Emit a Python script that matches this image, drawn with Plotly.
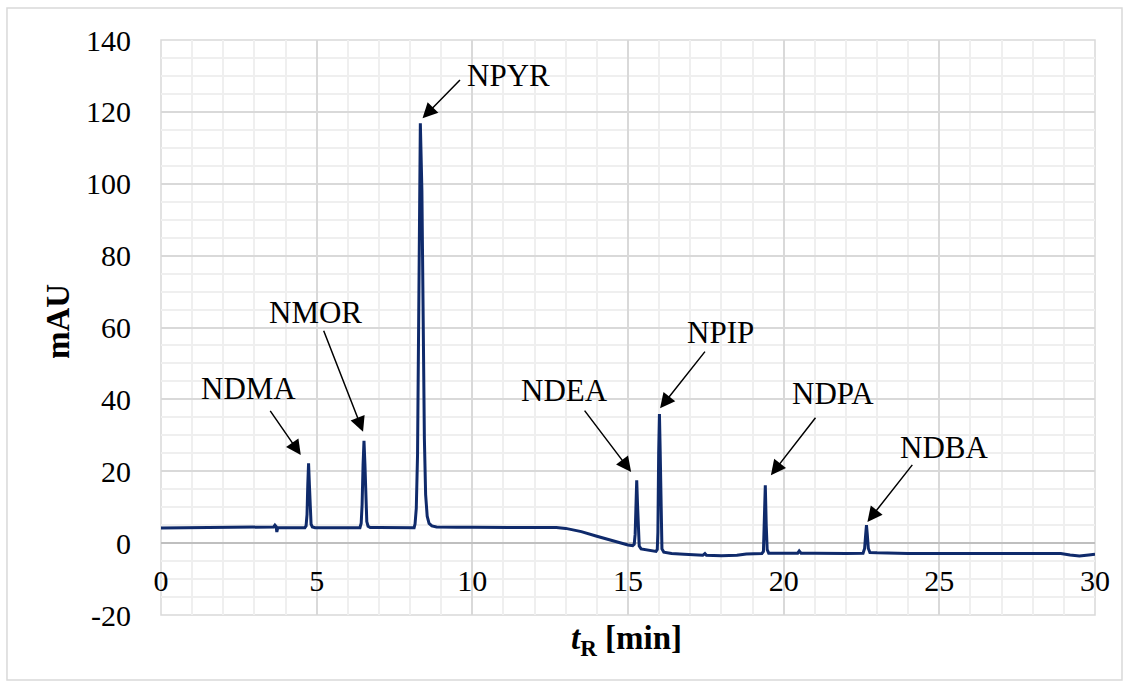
import plotly.graph_objects as go

# ---- data ----
base1_t = [0.0, 0.5, 1.0, 1.5, 2.0, 2.5, 3.0, 3.5, 3.62, 3.66, 3.70, 3.72, 3.75, 4.0, 4.3, 4.62]
base1_y = [4.2, 4.25, 4.3, 4.3, 4.35, 4.35, 4.35, 4.4, 4.5, 5.0, 4.6, 3.1, 4.3, 4.3, 4.3, 4.3]

ndma_t = [4.66, 4.69, 4.715, 4.74, 4.765, 4.79, 4.82, 4.86, 4.95]
ndma_y = [4.8, 7.9, 16.3, 22.2, 16.6, 8.4, 5.3, 4.5, 4.3]

mid1_t = [5.3, 5.8, 6.2, 6.39]
mid1_y = [4.3, 4.35, 4.35, 4.3]

nmor_t = [6.43, 6.46, 6.49, 6.52, 6.55, 6.58, 6.61, 6.65, 6.72]
nmor_y = [5.56, 10.8, 21.7, 28.5, 22.0, 11.5, 6.0, 4.7, 4.35]

mid2_t = [7.0, 7.5, 7.9, 8.13]
mid2_y = [4.35, 4.35, 4.3, 4.3]

npyr_t = [8.16, 8.2, 8.24, 8.28, 8.33, 8.38, 8.42, 8.46, 8.5, 8.55, 8.61, 8.7, 8.85]
npyr_y = [5.3, 9.7, 24.6, 57.0, 116.8, 98.0, 60.0, 29.0, 13.5, 7.5, 5.5, 4.8, 4.5]

drift_t = [9.1, 9.5, 10.0, 11.0, 12.0, 12.7, 13.0, 13.5, 14.0, 14.5, 15.0, 15.15]
drift_y = [4.4, 4.4, 4.4, 4.35, 4.4, 4.35, 4.1, 3.2, 1.9, 0.6, -0.5, -0.7]

ndea_t = [15.2, 15.23, 15.255, 15.28, 15.305, 15.33, 15.36, 15.42]
ndea_y = [-0.3, 2.5, 11.0, 17.5, 11.0, 3.0, -0.8, -1.6]

mid3_t = [15.6, 15.8, 15.9]
mid3_y = [-1.9, -2.2, -2.3]

npip_t = [15.94, 15.96, 15.985, 16.01, 16.035, 16.06, 16.09, 16.15]
npip_y = [-1.8, 3.0, 25.0, 35.9, 25.0, 4.0, -1.6, -2.5]

mid4_t = [16.4, 16.8, 17.4, 17.47, 17.52, 18.0, 18.5, 18.8, 19.3]
mid4_y = [-2.9, -3.1, -3.4, -2.9, -3.4, -3.5, -3.4, -3.0, -2.9]

ndpa_t = [19.35, 19.38, 19.41, 19.44, 19.47, 19.52]
ndpa_y = [-2.3, 5.0, 16.1, 5.0, -1.8, -2.8]

mid5_t = [20.0, 20.45, 20.5, 20.56, 21.0, 21.5, 22.0, 22.55]
mid5_y = [-2.9, -2.8, -2.2, -2.8, -2.8, -2.9, -2.9, -2.8]

ndba_t = [22.6, 22.635, 22.66, 22.685, 22.72, 22.77]
ndba_y = [-1.5, 2.5, 5.0, 2.5, -1.5, -2.6]

tail_t = [23.0, 24.0, 25.0, 26.0, 27.0, 28.0, 28.9, 29.2, 29.5, 29.8, 30.0]
tail_y = [-2.7, -2.9, -2.9, -2.9, -2.85, -2.9, -2.9, -3.3, -3.6, -3.3, -3.1]

t_min = (base1_t + ndma_t + mid1_t + nmor_t + mid2_t + npyr_t + drift_t + ndea_t
         + mid3_t + npip_t + mid4_t + ndpa_t + mid5_t + ndba_t + tail_t)
mau = (base1_y + ndma_y + mid1_y + nmor_y + mid2_y + npyr_y + drift_y + ndea_y
       + mid3_y + npip_y + mid4_y + ndpa_y + mid5_y + ndba_y + tail_y)

# peak labels and ticks
peak_names = ["NDMA", "NMOR", "NPYR", "NDEA", "NPIP", "NDPA", "NDBA"]
x_ticks = [0, 5, 10, 15, 20, 25, 30]
y_ticks = [-20, 0, 20, 40, 60, 80, 100, 120, 140]
y_tick_text = ["-20", "0", "20", "40", "60", "80", "100", "120", "140"]

# ---- layout helpers (label/arrow placement) ----
label_pos = [(2.82, 43.1), (4.97, 64.3), (11.16, 130.2), (12.96, 42.6),
             (17.97, 58.5), (21.58, 41.7), (25.14, 26.7)]
arrow_head = [(4.49, 24.5), (6.49, 31.0), (8.40, 118.2), (15.10, 19.8),
              (16.03, 37.5), (19.59, 18.9), (22.69, 5.9)]
arrow_tail = [(3.475, 37.2), (5.207, 59.5), (9.65, 129.3), (13.57, 37.3),
              (17.51, 53.7), (21.06, 35.3), (24.17, 22.2)]

FONT = "Liberation Serif, Times New Roman, serif"

fig = go.Figure()
fig.add_trace(go.Scatter(x=t_min, y=mau, mode="lines",
                         line=dict(color="#0f2a6b", width=3),
                         hoverinfo="skip", showlegend=False))

annotations = []
for name, (lx, ly), (hx, hy), (tx, ty) in zip(peak_names, label_pos, arrow_head, arrow_tail):
    annotations.append(dict(x=lx, y=ly, xref="x", yref="y", text=name, showarrow=False,
                            font=dict(family=FONT, size=31, color="black")))
    annotations.append(dict(x=hx, y=hy, xref="x", yref="y", ax=tx, ay=ty,
                            axref="x", ayref="y", text="", showarrow=True,
                            arrowhead=2, arrowsize=2, arrowwidth=1.5, arrowcolor="black"))

annotations.append(dict(x=0.498, y=-0.045, xref="paper", yref="paper",
                        text="<b><i>t</i><sub>R</sub> [min]</b>", showarrow=False,
                        font=dict(family=FONT, size=33, color="black"),
                        xanchor="center", yanchor="middle"))
annotations.append(dict(x=-0.111, y=0.51, xref="paper", yref="paper",
                        text="<b>mAU</b>", showarrow=False, textangle=-90,
                        font=dict(family=FONT, size=33, color="black"),
                        xanchor="center", yanchor="middle"))

shapes = [
    dict(type="rect", xref="paper", yref="paper", x0=0, y0=0, x1=1, y1=1,
         line=dict(color="#d9d9d9", width=1.5), layer="below"),
    dict(type="rect", xref="paper", yref="paper", x0=-0.1649, y0=-0.1130,
         x1=1.0289, y1=1.0557, line=dict(color="#d9d9d9", width=1.5), layer="below"),
]

fig.update_layout(
    width=1130, height=687,
    margin=dict(l=161, r=35, t=40, b=72),
    paper_bgcolor="white", plot_bgcolor="white",
    font=dict(family=FONT, size=30, color="black"),
    annotations=annotations, shapes=shapes,
    xaxis=dict(range=[0, 30], tickvals=x_ticks, ticks="", showline=False,
               anchor="free", position=0.125, ticklabelstandoff=17,
               showgrid=True, gridcolor="#d9d9d9", gridwidth=1.5,
               minor=dict(dtick=1, showgrid=True, gridcolor="#efefef", gridwidth=1.5),
               zeroline=False, tickfont=dict(family=FONT, size=30)),
    yaxis=dict(range=[-20, 140], tickvals=y_ticks, ticktext=y_tick_text, ticks="",
               showline=False, ticklabelstandoff=29,
               showgrid=True, gridcolor="#d9d9d9", gridwidth=1.5,
               minor=dict(dtick=5, showgrid=True, gridcolor="#efefef", gridwidth=1.5),
               zeroline=True, zerolinecolor="#bfbfbf", zerolinewidth=1.5,
               tickfont=dict(family=FONT, size=30)),
)

fig.write_html("out.html", config={"displayModeBar": False},
               post_script="document.body.style.margin='0';")
